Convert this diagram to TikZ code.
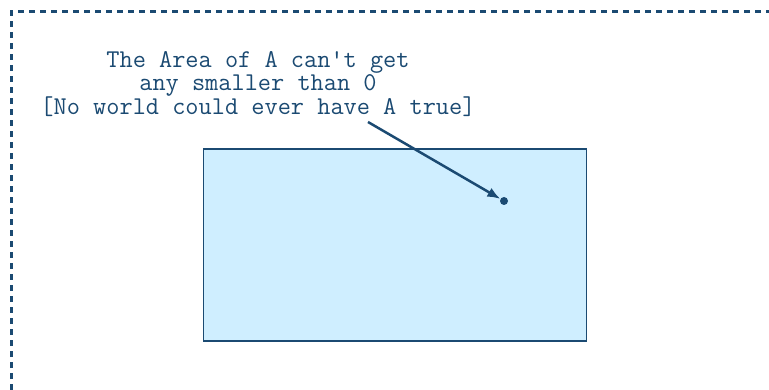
\documentclass[tikz,border=0pt]{standalone}
\usepackage{textcomp}
\usetikzlibrary{arrows.meta}
\definecolor{ink}{HTML}{1B4A72}
\definecolor{pale}{HTML}{CFEEFF}

\begin{document}
\begin{tikzpicture}[x=1pt, y=-1pt]
        \useasboundingbox (0, 0) rectangle (769, 390);

        % frame, open to the right and bottom
        \draw[ink, line width=3pt, dash pattern=on 6pt off 5pt] (11, 390) -- (11, 12) -- (769, 12);

        \node[draw=ink, fill=pale, line width=1.4pt, minimum width=383pt, minimum height=192pt, inner sep=0pt] (area) at (395, 245) {};
        \node[align=center, text=ink, inner sep=0pt, font=\ttfamily\fontsize{25.6}{23}\selectfont] (note) at (258, 84)
            {The Area of A can\textquotesingle t get\\any smaller than 0\\{}[No world could ever have A true]};

        \coordinate (tail) at (368, 122);
        \node[circle, fill=ink, inner sep=0pt, minimum size=8pt] (zero) at (504, 201) {};

        \draw[ink, line width=2.5pt, -{Latex[length=13pt, width=10pt]}] (tail) -- (zero);
    \end{tikzpicture}
\end{document}
